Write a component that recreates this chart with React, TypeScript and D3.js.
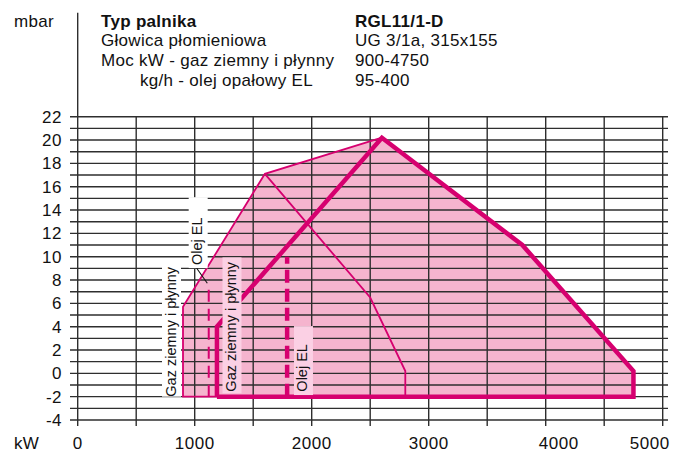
import React from 'react'
import * as d3 from 'd3'

// zakres pracy palnika RGL11/1-D
const xTicks = [0, 1000, 2000, 3000, 4000, 5000]
const xTickNudge = [0, 0, 0, 0, 13, -13]
const yTicks = [-4, -2, 0, 2, 4, 6, 8, 10, 12, 14, 16, 18, 20, 22]
const xGrid = d3.range(0, 5001, 500)
const yGrid = d3.range(-4, 23, 1)

// obwiednia gazu (wypełnienie)
const gasEnvelope: [number, number][] = [
  [900, -2], [900, 5.7], [1600, 17.1], [2600, 20.2], [3800, 11], [4750, 0.2], [4750, -2]
]
// cienka linia – lewa krawędź
const gasThinEdge: [number, number][] = [
  [1190, -2], [900, -2], [900, 5.7], [1600, 17.1], [2600, 20.2]
]
// cienka linia – olej EL
const oilThinEdge: [number, number][] = [
  [1600, 17.1], [2500, 6.5], [2800, 0.2], [2800, -2]
]
// gruba linia – gaz ziemny i płynny
const gasThick: [number, number][] = [
  [1190, -2], [1190, 4], [2600, 20.2], [3800, 11], [4750, 0.2], [4750, -2], [1190, -2]
]
const oilDashThin: [number, number][] = [[1120, -2], [1120, 7.4]]
const oilDashThick: [number, number][] = [[1790, -2], [1790, 10]]

const headerLeft = ['Typ palnika', 'Głowica płomieniowa', 'Moc kW - gaz ziemny i płynny', 'kg/h - olej opałowy EL']
const headerRight = ['RGL11/1-D', 'UG 3/1a, 315x155', '900-4750', '95-400']

const labels = [
  { text: 'Gaz ziemny i płynny', x: 836, y: -2, boxTop: 9.2, boxBottom: -2, fill: '#ffffff' },
  { text: 'Gaz ziemny i płynny', x: 1353, y: -1.57, boxTop: 9.94, boxBottom: -1.71, fill: '#fbd0e4' },
  { text: 'Olej EL', x: 1964, y: -1.57, boxTop: 4.05, boxBottom: -1.86, fill: '#fbd0e4' },
  { text: 'Olej EL', x: 1064, y: 9.28, boxTop: 15.1, boxBottom: 9.02, fill: '#ffffff' }
]

const MAGENTA = '#d6006f'
const FILL = '#f5b4ce'
const GRID = '#2e2e2e'
const FONT = '"Liberation Sans", Arial, Helvetica, sans-serif'

const App: React.FC = () => {
  const x = d3.scaleLinear().domain([0, 5000]).range([77.7, 662.7])
  const y = d3.scaleLinear().domain([-4, 22]).range([420, 116.7])
  const line = d3.line<[number, number]>().x(d => x(d[0])).y(d => y(d[1]))

  return (
    <svg
      width={690}
      height={455}
      style={{ position: 'absolute', left: 0, top: 0, background: '#fff' }}
      fontFamily={FONT}
    >
      {/* wypełnienie */}
      <path d={line(gasEnvelope) + 'Z'} fill={FILL} stroke="none" />

      {/* siatka */}
      {yGrid.map(v => (
        <line key={'h' + v} x1={70} x2={668} y1={y(v)} y2={y(v)} stroke={GRID} strokeWidth={1.4} />
      ))}
      {xGrid.map(v => (
        <line key={'v' + v} x1={x(v)} x2={x(v)} y1={v === 0 ? 12.7 : y(22)} y2={426} stroke={GRID} strokeWidth={1.4} />
      ))}

      {/* linie zakresów */}
      <path d={line(gasThinEdge) ?? ''} fill="none" stroke={MAGENTA} strokeWidth={1.8} strokeLinejoin="miter" />
      <path d={line(oilThinEdge) ?? ''} fill="none" stroke={MAGENTA} strokeWidth={1.8} />
      <path d={line(gasThick) ?? ''} fill="none" stroke={MAGENTA} strokeWidth={4.5} strokeLinejoin="miter" />
      <path d={line(oilDashThin) ?? ''} fill="none" stroke={MAGENTA} strokeWidth={2} strokeDasharray="12 7" />
      <path d={line(oilDashThick) ?? ''} fill="none" stroke={MAGENTA} strokeWidth={4.5} strokeDasharray="13 6" />

      {/* opisy */}
      {labels.map((l, i) => (
        <g key={'l' + i}>
          <rect
            x={x(l.x) - 13.5}
            y={y(l.boxTop)}
            width={19}
            height={y(l.boxBottom) - y(l.boxTop)}
            fill={l.fill}
          />
          <text
            transform={`translate(${x(l.x)},${y(l.y)}) rotate(-90)`}
            fontSize={14.5}
            fill="#111"
          >
            {l.text}
          </text>
        </g>
      ))}
      <line x1={196.7} y1={268.3} x2={207.3} y2={283.3} stroke="#111" strokeWidth={1.1} />

      {/* osie */}
      {yTicks.map(v => (
        <text key={'yt' + v} x={62} y={y(v)} dy="0.35em" textAnchor="end" fontSize={17} letterSpacing={0.5} fill="#111">
          {v}
        </text>
      ))}
      {xTicks.map((v, i) => (
        <text key={'xt' + v} x={x(v) + xTickNudge[i]} y={449} textAnchor="middle" fontSize={17} letterSpacing={0.5} fill="#111">
          {v}
        </text>
      ))}
      <text x={14} y={26.5} fontSize={17} letterSpacing={0.3} fill="#111">mbar</text>
      <text x={14} y={449} fontSize={17} letterSpacing={0.3} fill="#111">kW</text>

      {/* nagłówek */}
      {headerLeft.map((t, i) => (
        <text
          key={'hl' + i}
          x={i === 3 ? 140 : 101}
          y={26.5 + i * 19.8}
          fontSize={17}
          letterSpacing={0.3}
          fontWeight={i === 0 ? 'bold' : 'normal'}
          fill="#111"
        >
          {t}
        </text>
      ))}
      {headerRight.map((t, i) => (
        <text
          key={'hr' + i}
          x={355}
          y={26.5 + i * 19.8}
          fontSize={17}
          letterSpacing={0.3}
          fontWeight={i === 0 ? 'bold' : 'normal'}
          fill="#111"
        >
          {t}
        </text>
      ))}
    </svg>
  )
}

export default App
